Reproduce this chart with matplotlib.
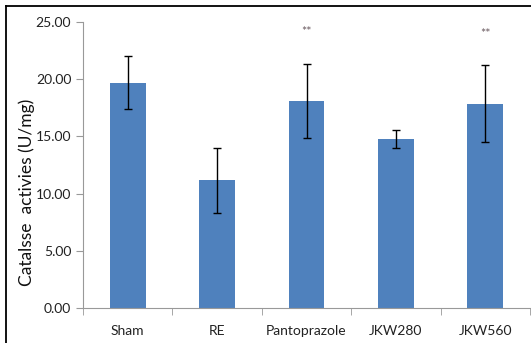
import matplotlib.pyplot as plt
from matplotlib.lines import Line2D
from matplotlib.ticker import MultipleLocator, FixedLocator

groups = ['Sham', 'RE', 'Pantoprazole', 'JKW280', 'JKW560']
means = [19.7, 11.15, 18.1, 14.8, 17.85]
errs = [2.3, 2.85, 3.25, 0.8, 3.35]
stars = ['', '', '**', '', '**']

plt.rcParams['font.family'] = ['Lato', 'DejaVu Sans']

fig = plt.figure(figsize=(5.31, 3.43), dpi=100)
ax = fig.add_axes([83 / 531, 1 - 308 / 343, 447 / 531, 286 / 343])

x = range(len(groups))
ax.bar(x, means, width=0.4, color='#4f81bd', zorder=2)
ax.errorbar(x, means, yerr=errs, fmt='none', ecolor='black',
            elinewidth=1, capsize=3, capthick=1, zorder=3)
for i, s in enumerate(stars):
    if s:
        ax.text(i, means[i] + errs[i] + 2.75, s, ha='center', va='center',
                fontsize=9, color='#6a5a60')

ax.set_xlim(-0.5, len(groups) - 0.5)
ax.set_ylim(0, 25)
ax.yaxis.set_major_locator(MultipleLocator(5))
ax.yaxis.set_major_formatter(plt.FuncFormatter(lambda v, p: '%.2f' % v))
ax.set_xticks(list(x))
ax.set_xticklabels(groups)
ax.xaxis.set_minor_locator(FixedLocator([i + 0.5 for i in range(-1, len(groups))]))
ax.tick_params(axis='x', which='major', length=0, pad=12, labelsize=10, colors='#222222')
ax.tick_params(axis='x', which='minor', length=5, color='#999999')
ax.tick_params(axis='y', length=5, color='#999999', labelsize=10, labelcolor='#222222')

for side in ['top', 'right']:
    ax.spines[side].set_visible(False)
ax.spines['left'].set_color('#999999')
ax.spines['bottom'].set_color('#999999')

ax.set_ylabel('Catalsse  activies (U/mg)', fontsize=12.5, color='#111111')
ax.yaxis.set_label_coords(-0.108, 0.405)

# frame lines on the figure edge (top and left only)
fig.add_artist(Line2D([6 / 531, 1], [1 - 6 / 343, 1 - 6 / 343], color='black', lw=1.3, transform=fig.transFigure))
fig.add_artist(Line2D([6 / 531, 6 / 531], [0, 1 - 6 / 343], color='black', lw=1.3, transform=fig.transFigure))

plt.savefig('out.png', dpi=100)
